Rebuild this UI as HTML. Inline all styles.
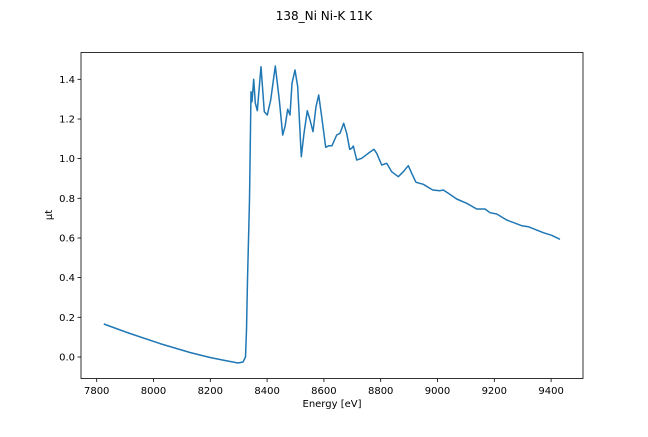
<!DOCTYPE html><html><head><style>body{margin:0;background:#fff}svg text{font-family:"DejaVu Sans","Liberation Sans",sans-serif;font-size:10px;fill:#000}</style></head><body>
<svg width="648" height="432" viewBox="0 0 648 432">
<text x="324" y="20" text-anchor="middle" font-size="12" style="font-size:12px">138_Ni Ni-K 11K</text>
<g stroke="#000" stroke-width="0.8">
<line x1="96.7" y1="378.5" x2="96.7" y2="382"/><line x1="153.5" y1="378.5" x2="153.5" y2="382"/><line x1="210.3" y1="378.5" x2="210.3" y2="382"/><line x1="267.1" y1="378.5" x2="267.1" y2="382"/><line x1="323.9" y1="378.5" x2="323.9" y2="382"/><line x1="380.7" y1="378.5" x2="380.7" y2="382"/><line x1="437.5" y1="378.5" x2="437.5" y2="382"/><line x1="494.3" y1="378.5" x2="494.3" y2="382"/><line x1="551.1" y1="378.5" x2="551.1" y2="382"/>
<line x1="77.5" y1="357" x2="81" y2="357"/><line x1="77.5" y1="317.3" x2="81" y2="317.3"/><line x1="77.5" y1="277.6" x2="81" y2="277.6"/><line x1="77.5" y1="238" x2="81" y2="238"/><line x1="77.5" y1="198.3" x2="81" y2="198.3"/><line x1="77.5" y1="158.6" x2="81" y2="158.6"/><line x1="77.5" y1="119" x2="81" y2="119"/><line x1="77.5" y1="79.3" x2="81" y2="79.3"/>
</g>
<g text-anchor="middle">
<text x="96.7" y="394">7800</text><text x="153.5" y="394">8000</text><text x="210.3" y="394">8200</text><text x="267.1" y="394">8400</text><text x="323.9" y="394">8600</text><text x="380.7" y="394">8800</text><text x="437.5" y="394">9000</text><text x="494.3" y="394">9200</text><text x="551.1" y="394">9400</text>
<text x="332" y="407">Energy [eV]</text>
</g>
<g text-anchor="end">
<text x="75" y="360.5">0.0</text><text x="75" y="320.8">0.2</text><text x="75" y="281.1">0.4</text><text x="75" y="241.5">0.6</text><text x="75" y="201.8">0.8</text><text x="75" y="162.1">1.0</text><text x="75" y="122.5">1.2</text><text x="75" y="82.8">1.4</text>
</g>
<text transform="translate(52,215) rotate(-90)" text-anchor="middle">μt</text>
<polyline fill="none" stroke="#1f77b4" stroke-width="1.5" stroke-linejoin="round" points="103.8,324 130,333.5 160,343.6 190,352.5 210,357.5 225,360.5 238,363 243,362 245.5,357 246.5,330 247.5,280 248.5,240 249.5,200 250.2,150 251,91.7 252,101.7 253.7,79.3 255.3,103 257.3,110.7 261,66.7 264.3,111.7 267.3,115 270.7,100 275.3,66 279.3,100 282.7,135 285,126.7 287.7,109.3 290,115 292,83.3 295,70 297.7,86.7 301.3,156.7 304,133.3 307.3,110.7 310,120 313,131.7 316,106.7 318.7,95 321.7,116.7 325.7,147.3 329,145.7 332,145.7 336.7,135 340,133.3 343.7,123.3 346.7,133.3 349.7,149.3 351.7,148.3 353.3,146 356.7,160 361.7,158.3 368.3,153.3 374,149.3 376.7,153.3 381.7,165 386.7,163.3 391.7,171.7 398.3,176.7 403.3,171.7 408.3,165.7 411.7,173.3 416,182.3 423.3,184.3 432.7,190 440,190.7 443.3,190 448.3,193.3 456.7,199 466.7,203.3 476.7,209 485,209 490,212.7 496.7,214 506.7,220 521.7,225.7 528.3,226.7 543.3,232.7 551.7,235.3 560,239.3"/>
<rect x="81" y="52.5" width="502" height="326" fill="none" stroke="#000" stroke-width="0.8"/>
</svg></body></html>
